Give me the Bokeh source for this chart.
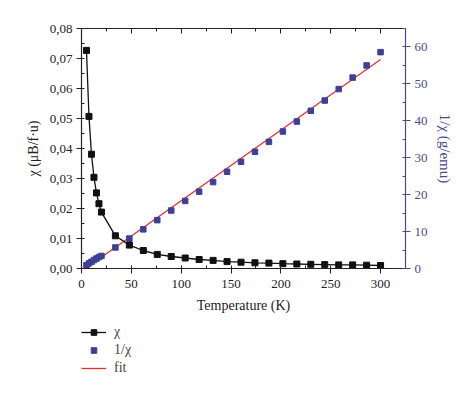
from bokeh.plotting import figure
from bokeh.layouts import column
from bokeh.models import (Range1d, LinearAxis, SingleIntervalTicker, CustomJSTickFormatter,
                          Legend, LegendItem)
from bokeh.embed import file_html
from bokeh.resources import INLINE

# ---- data ----
temp = [5, 7.5, 10, 12.5, 15, 17.5, 20, 34, 48, 62, 76, 90, 104, 118, 132, 146, 160,
        174, 188, 202, 216, 230, 244, 258, 272, 286, 300]
chi = [0.0727, 0.0507, 0.0381, 0.0304, 0.0252, 0.0216, 0.0188, 0.0109, 0.0078, 0.0060,
       0.0047, 0.0040, 0.0035, 0.0030, 0.0027, 0.0023, 0.0021,
       0.0019, 0.0018, 0.0016, 0.0015, 0.0014, 0.0013, 0.0012, 0.0012, 0.0011, 0.0010]
inv_chi = [0.9, 1.4, 1.8, 2.3, 2.7, 3.1, 3.4, 5.7, 8.1, 10.6, 13.1, 15.7, 18.3, 20.8, 23.4,
           26.2, 28.9, 31.6, 34.3, 37.1, 39.8, 42.7, 45.5, 48.6, 51.7, 55.0, 58.6]
fit_t = [4, 300]
fit_y = [0.0, 56.6]
legend_labels = ["χ", "1/χ", "fit"]

SERIF = "Liberation Serif"
AX2 = "#4b4a8a"
MK2 = "#3f3f96"
RED = "#e8302a"
BLK = "#111111"

W = 474
p = figure(width=W, height=320, output_backend="svg", toolbar_location=None,
           x_range=Range1d(0, 325), y_range=Range1d(0, 0.08),
           min_border_left=81, min_border_right=69, min_border_top=28, min_border_bottom=52)
p.extra_y_ranges = {"inv": Range1d(0, 65)}
p.grid.visible = False
p.outline_line_color = None

def style(ax, color="#222222"):
    ax.axis_line_color = color
    ax.axis_line_width = 1.2
    ax.major_tick_line_color = color
    ax.minor_tick_line_color = color
    ax.major_label_text_font = SERIF
    ax.major_label_text_font_size = "13px"
    ax.major_label_text_color = color
    ax.axis_label_text_font = SERIF
    ax.axis_label_text_font_size = "14px"
    ax.axis_label_text_font_style = "normal"
    ax.axis_label_text_color = color
    ax.major_tick_out = 5
    ax.major_tick_in = 0
    ax.minor_tick_out = 0
    ax.minor_tick_in = 3
    ax.major_label_standoff = 4
    ax.axis_label_standoff = 6

xa = p.xaxis[0]
xa.ticker = SingleIntervalTicker(interval=50, num_minor_ticks=2)
xa.axis_label = "Temperature (K)"
style(xa)
xa.major_label_standoff = 6
xa.axis_label_standoff = 7

ya = p.yaxis[0]
ya.ticker = SingleIntervalTicker(interval=0.01, num_minor_ticks=2)
ya.formatter = CustomJSTickFormatter(code="return tick.toFixed(2).replace('.', ',');")
ya.axis_label = "χ (μB/f·u)"
style(ya)

ra = LinearAxis(y_range_name="inv", axis_label="1/χ (g/emu)",
                ticker=SingleIntervalTicker(interval=10, num_minor_ticks=2))
style(ra, AX2)
ra.axis_label_standoff = 6
ra.axis_label_text_font_size = "15px"
p.add_layout(ra, "right")

ta = LinearAxis(ticker=SingleIntervalTicker(interval=50, num_minor_ticks=2),
                formatter=CustomJSTickFormatter(code="return '';"))
style(ta)
ta.major_tick_in = 5
ta.major_tick_out = 0
ta.major_label_standoff = 0
p.add_layout(ta, "above")

p.line(fit_t, fit_y, y_range_name="inv", color=RED, line_width=1.3)
p.scatter(temp, inv_chi, y_range_name="inv", marker="square", size=5.5,
          fill_color=MK2, line_color=MK2)
p.line(temp, chi, color=BLK, line_width=1.3)
p.scatter(temp, chi, marker="square", size=6, fill_color=BLK, line_color=BLK)

# legend panel below the plot (same series, drawn out of view so only legend glyphs show)
lf = figure(width=W, height=66, output_backend="svg", toolbar_location=None,
            x_range=Range1d(1000, 1001), y_range=Range1d(1000, 1001),
            x_axis_location=None, y_axis_location=None, min_border=0)
lf.grid.visible = False
lf.outline_line_color = None
l1 = lf.line(temp, chi, color=BLK, line_width=1.3)
m1 = lf.scatter(temp, chi, marker="square", size=6, fill_color=BLK, line_color=BLK)
m2 = lf.scatter(temp, inv_chi, marker="square", size=5.5, fill_color=MK2, line_color=MK2)
l3 = lf.line(fit_t, fit_y, color=RED, line_width=1.3)
legend = Legend(items=[LegendItem(label=legend_labels[0], renderers=[l1, m1]),
                       LegendItem(label=legend_labels[1], renderers=[m2]),
                       LegendItem(label=legend_labels[2], renderers=[l3])],
                location=(0, 10), orientation="vertical",
                label_text_font=SERIF, label_text_font_size="14px",
                glyph_width=25, glyph_height=14, spacing=2, padding=2, margin=0,
                label_standoff=8, border_line_color=None, background_fill_alpha=0)
lf.add_layout(legend, "center")

layout = column(p, lf, spacing=0)
open("out.html", "w").write(file_html(layout, INLINE))
